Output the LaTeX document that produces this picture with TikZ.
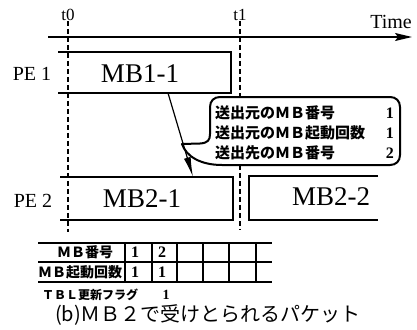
\documentclass[tikz,border=0pt]{standalone}
\usepackage{fontspec}
\setmainfont{Liberation Serif}
\newfontfamily\jp{Noto Sans CJK JP}
\usetikzlibrary{arrows.meta}
\begin{document}
\begin{tikzpicture}[x=1pt,y=-1pt,
  frame/.style={line width=1.4pt},
  tline/.style={dash pattern=on 5pt off 3pt, line width=1.3pt},
  bubble/.style={line width=2pt, fill=white, line join=round},
  tbl/.style={line width=1.3pt},
  lbl/.style={inner sep=0pt, font=\fontsize{20}{20}\selectfont},
  mbtext/.style={inner sep=0pt, font=\fontsize{27}{27}\selectfont},
  tk/.style={inner sep=0pt, font=\fontsize{17}{17}\selectfont},
  jb/.style={inner sep=0pt, font=\jp\bfseries\fontsize{15}{15}\selectfont, anchor=west},
  tj/.style={inner sep=0pt, font=\jp\bfseries\fontsize{14}{14}\selectfont},
  tflag/.style={inner sep=0pt, font=\jp\bfseries\fontsize{12}{12}\selectfont, anchor=west},
  num/.style={inner sep=0pt, font=\bfseries\fontsize{16}{16}\selectfont},
  capt/.style={inner sep=0pt, font=\jp\fontsize{20}{20}\selectfont},
]
\useasboundingbox (0,0) rectangle (417,329);

% time axis
\coordinate (ax0) at (48,37);
\coordinate (ax1) at (412,37);
\draw[line width=1.4pt,-{Stealth[length=17pt,width=8pt,inset=3pt]}] (ax0) -- (ax1);
\node[lbl] (time) at (391,22) {Time};
\node[tk] (t0) at (68,15) {t0};
\node[tk] (t1) at (240,15) {t1};
\coordinate (t0e) at (68,232);
\coordinate (t1e) at (240,230);
\draw[tline] (t0.south) -- (t0e);
\draw[tline] (t1.south) -- (t1e);

% PE1
\draw[frame] (58,52) -- (231,52) -- (231,93) -- (58,93);
\node[mbtext] (mb11) at (140,74) {MB1-1};
\node[lbl] (pe1) at (32,74) {PE 1};

% PE2
\draw[frame] (60,177) -- (233,177) -- (233,220) -- (60,220);
\node[mbtext] (mb21) at (142,199) {MB2-1};
\node[lbl] (pe2) at (33,201) {PE 2};
\draw[frame] (378,176) -- (249,176) -- (249,220) -- (378,220);
\node[mbtext] (mb22) at (331,197) {MB2-2};

% callout
\draw[bubble] (220,97) -- (390,97) .. controls (396,97) and (400,101) .. (400,107)
  -- (400,155) .. controls (400,161) and (396,165) .. (390,165)
  -- (222,165) .. controls (200,165) and (186,156) .. (182,144)
  -- (200,143.5) .. controls (208,143) and (210,140) .. (210,134)
  -- (210,107) .. controls (210,101) and (214,97) .. (220,97) -- cycle;
\node[jb] (c1) at (215,113) {送出元のＭＢ番号};
\node[jb] (c2) at (215,133) {送出元のＭＢ起動回数};
\node[jb] (c3) at (215,153) {送出先のＭＢ番号};
\node[num, anchor=east] (n1) at (394,113) {1};
\node[num, anchor=east] (n2) at (394,133) {1};
\node[num, anchor=east] (n3) at (394,153) {2};

% arrow
\coordinate (a1) at (168,93);
\coordinate (a2) at (193,177);
\draw[line width=1.2pt, -{Latex[length=20pt,width=7pt]}] (a1) -- (a2);

% table
\draw[tbl] (38,243) -- (272,243);
\draw[tbl] (38,262) -- (272,262);
\draw[tbl] (38,282) -- (272,282);
\foreach \x in {125,152,177,203,229,256} \draw[tbl] (\x,243) -- (\x,282);
\node[tj] (h1) at (85,252.5) {ＭＢ番号};
\node[tj] (h2) at (80,272) {ＭＢ起動回数};
\node[num] (v11) at (135,252.5) {1};
\node[num] (v12) at (162,252.5) {2};
\node[num] (v21) at (135,272) {1};
\node[num] (v22) at (162,272) {1};
\node[tflag] (flag) at (42,295) {ＴＢＬ更新フラグ};
\node[num, font=\bfseries\fontsize{14}{14}\selectfont] (flagv) at (166,295) {1};

\node[capt] (cap) at (208,315) {(b)ＭＢ２で受けとられるパケット};
\end{tikzpicture}
\end{document}
